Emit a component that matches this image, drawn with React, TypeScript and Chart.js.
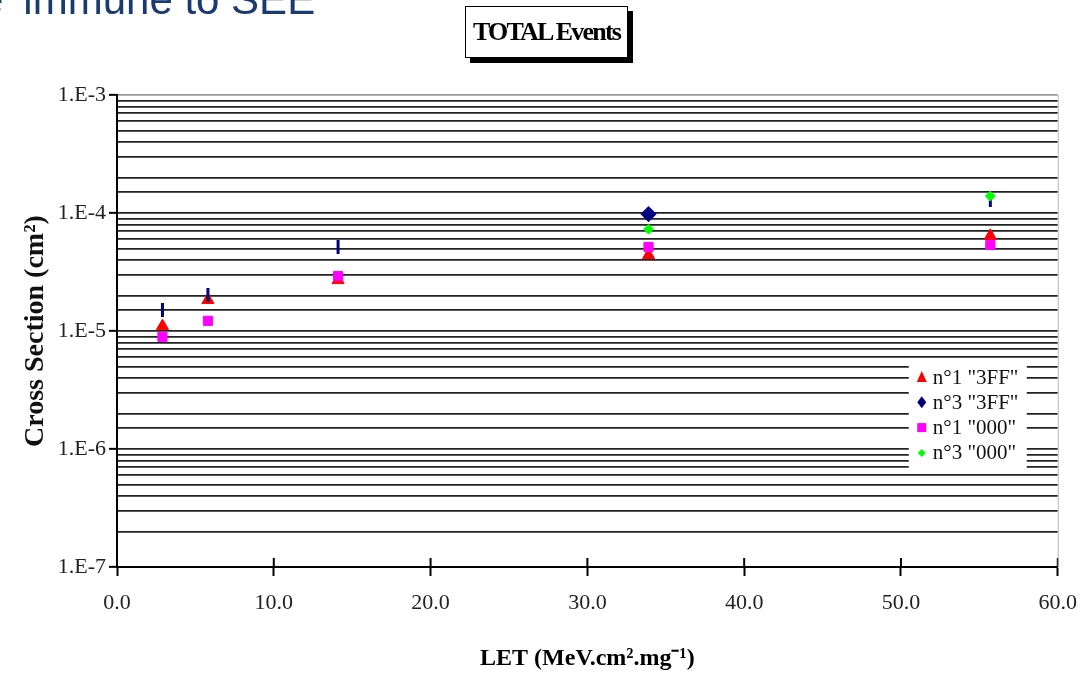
import React, { useEffect, useRef } from 'react';
import { Chart, registerables } from 'chart.js';

Chart.register(...registerables);

// ---- data ----
const LET = [2.9, 5.8, 14.1, 33.9, 55.7];
const N1_3FF = [1.1e-5, 1.83e-5, 2.7e-5, 4.4e-5, 6.4e-5];
const N3_3FF = [1.51e-5, 2.02e-5, 5.15e-5, 9.8e-5, 1.24e-4];
const N1_000 = [8.9e-6, 1.22e-5, 2.92e-5, 5.15e-5, 5.36e-5];
const N3_000_LET = [33.9, 55.7];
const N3_000 = [7.3e-5, 1.39e-4];
const SERIES_NAMES = ['n°1 "3FF"', 'n°3 "3FF"', 'n°1 "000"', 'n°3 "000"'];
const SERIES_COLORS = ['#ff0000', '#000080', '#ff00ff', '#00ff00'];
const X_MIN = 0;
const X_MAX = 60;
const X_STEP = 10;
const Y_MIN = 1e-7;
const Y_MAX = 1e-3;
const CHART_TITLE = 'TOTAL Events';
const X_TITLE = 'LET (MeV.cm².mg⁻¹)';
const Y_TITLE = 'Cross Section (cm²)';
const SLIDE_TEXT_CUT = 'e';
const SLIDE_TEXT = 'immune to SEE';

const SERIF = "'Liberation Serif', 'Times New Roman', serif";

const pts = (xs: number[], ys: number[]) => xs.map((x, i) => ({ x, y: ys[i] }));
const isDecade = (v: number) => Math.abs(Math.log10(v) - Math.round(Math.log10(v))) < 1e-6;

const crossTicksPlugin = {
  id: 'crossTicks',
  afterDraw(chart: any) {
    const { ctx, chartArea } = chart;
    const xs = chart.scales.x;
    ctx.save();
    ctx.strokeStyle = '#000';
    ctx.lineWidth = 2;
    xs.ticks.forEach((t: any) => {
      const px = xs.getPixelForValue(t.value);
      ctx.beginPath();
      ctx.moveTo(px, chartArea.bottom - 9);
      ctx.lineTo(px, chartArea.bottom);
      ctx.stroke();
    });
    // faint right edge
    ctx.strokeStyle = '#b8b8b8';
    ctx.lineWidth = 1;
    ctx.beginPath();
    ctx.moveTo(chartArea.right + 0.5, chartArea.top);
    ctx.lineTo(chartArea.right + 0.5, chartArea.bottom);
    ctx.stroke();
    ctx.restore();
  },
};

const boxLegendPlugin = {
  id: 'boxLegend',
  afterDatasetsDraw(chart: any) {
    const { ctx, chartArea } = chart;
    const bx = chartArea.right - 149;
    const by = chartArea.top + 267;
    const bw = 118;
    const bh = 106;
    ctx.save();
    ctx.fillStyle = '#ffffff';
    ctx.fillRect(bx, by, bw, bh);
    const rowH = 25.3;
    const mx = bx + 13;
    SERIES_NAMES.forEach((name, i) => {
      const cy = by + 15 + i * rowH;
      ctx.fillStyle = SERIES_COLORS[i];
      ctx.beginPath();
      if (i === 0) {
        ctx.moveTo(mx, cy - 6);
        ctx.lineTo(mx + 5, cy + 5);
        ctx.lineTo(mx - 5, cy + 5);
        ctx.closePath();
      } else if (i === 1) {
        ctx.moveTo(mx, cy - 6);
        ctx.lineTo(mx + 4.5, cy);
        ctx.lineTo(mx, cy + 6);
        ctx.lineTo(mx - 4.5, cy);
        ctx.closePath();
      } else if (i === 2) {
        ctx.rect(mx - 4.5, cy - 4.5, 9, 9);
      } else {
        ctx.moveTo(mx, cy - 4);
        ctx.lineTo(mx + 4, cy);
        ctx.lineTo(mx, cy + 4);
        ctx.lineTo(mx - 4, cy);
        ctx.closePath();
      }
      ctx.fill();
      ctx.fillStyle = '#111';
      ctx.font = `21px ${SERIF}`;
      ctx.textBaseline = 'middle';
      ctx.textAlign = 'left';
      ctx.fillText(name, mx + 11, cy + 1);
    });
    ctx.restore();
  },
};

export default function App() {
  const canvasRef = useRef<HTMLCanvasElement | null>(null);

  useEffect(() => {
    document.body.style.margin = '0';
    const canvas = canvasRef.current;
    if (!canvas) return;
    const chart = new Chart(canvas, {
      type: 'scatter',
      data: {
        datasets: [
          {
            label: SERIES_NAMES[0],
            data: pts(LET, N1_3FF),
            pointStyle: 'triangle',
            radius: 7,
            backgroundColor: SERIES_COLORS[0],
            borderColor: SERIES_COLORS[0],
            borderWidth: 1,
            order: 4,
          },
          {
            label: SERIES_NAMES[1],
            data: pts(LET, N3_3FF),
            pointStyle: ['line', 'line', 'line', 'rectRot', 'line'],
            rotation: [90, 90, 90, 0, 90],
            radius: [7, 7, 7, 6, 5],
            backgroundColor: SERIES_COLORS[1],
            borderColor: SERIES_COLORS[1],
            borderWidth: 3,
            order: 3,
          } as any,
          {
            label: SERIES_NAMES[2],
            data: pts(LET, N1_000),
            pointStyle: 'rect',
            radius: 6.5,
            backgroundColor: SERIES_COLORS[2],
            borderColor: SERIES_COLORS[2],
            borderWidth: 1,
            order: 2,
          },
          {
            label: SERIES_NAMES[3],
            data: pts(N3_000_LET, N3_000),
            pointStyle: 'rectRot',
            radius: 5,
            backgroundColor: SERIES_COLORS[3],
            borderColor: SERIES_COLORS[3],
            borderWidth: 1,
            order: 1,
          },
        ],
      },
      options: {
        animation: false,
        responsive: false,
        devicePixelRatio: 1,
        layout: { padding: { top: 95, right: 32, left: 0, bottom: 0 } },
        plugins: {
          legend: { display: false },
          tooltip: { enabled: false },
          title: { display: false },
        },
        scales: {
          x: {
            type: 'linear',
            min: X_MIN,
            max: X_MAX,
            afterFit: (s: any) => {
              s.height = 106;
            },
            ticks: {
              stepSize: X_STEP,
              callback: (v: any) => Number(v).toFixed(1),
              font: { family: SERIF, size: 22 },
              color: '#222',
              padding: 14,
              maxRotation: 0,
            },
            grid: {
              drawOnChartArea: false,
              drawTicks: true,
              tickLength: 9,
              tickColor: '#000',
              tickWidth: 2,
            },
            border: { display: true, color: '#000', width: 2 },
            title: {
              display: true,
              text: X_TITLE,
              font: { family: SERIF, size: 24, weight: 'bold' },
              color: '#000',
              padding: { top: 0, bottom: 0 },
            },
          },
          y: {
            type: 'logarithmic',
            min: Y_MIN,
            max: Y_MAX,
            afterFit: (s: any) => {
              s.width = 117;
            },
            ticks: {
              autoSkip: false,
              callback: (v: any) => {
                const n = Number(v);
                if (!isDecade(n)) return '';
                return `1.E${Math.round(Math.log10(n))}`;
              },
              font: { family: SERIF, size: 22 },
              color: '#222',
              padding: 3,
            },
            grid: {
              color: (c: any) =>
                c.tick && Math.abs(c.tick.value - Y_MAX) / Y_MAX < 1e-6 ? '#999' : '#222',
              lineWidth: 1.7,
              drawTicks: true,
              tickLength: 8,
              tickColor: (c: any) => (c.tick && isDecade(c.tick.value) ? '#000' : 'rgba(0,0,0,0)'),
              tickWidth: 2,
            },
            border: { display: true, color: '#000', width: 2 },
            title: {
              display: true,
              text: Y_TITLE,
              font: { family: SERIF, size: 28, weight: 'bold' },
              color: '#111',
              padding: { top: 19, bottom: 0 },
            },
          },
        },
      },
      plugins: [crossTicksPlugin, boxLegendPlugin],
    } as any);
    return () => chart.destroy();
  }, []);

  return (
    <div style={{ position: 'fixed', left: 0, top: 0, width: 1091, height: 673, background: '#fff', overflow: 'hidden' }}>
      <canvas ref={canvasRef} width={1091} height={673} style={{ display: 'block', width: 1091, height: 673 }} />
      <div
        style={{
          position: 'absolute',
          left: -20,
          top: -21,
          fontFamily: "'Liberation Sans', Arial, sans-serif",
          fontSize: 42,
          lineHeight: '42px',
          color: '#1a3a70',
          whiteSpace: 'nowrap',
        }}
      >
        <span>{SLIDE_TEXT_CUT}</span>
        <span style={{ marginLeft: 20 }}>{SLIDE_TEXT}</span>
      </div>
      <div
        style={{
          position: 'absolute',
          left: 465,
          top: 6,
          width: 163,
          height: 52,
          boxSizing: 'border-box',
          border: '1.5px solid #000',
          boxShadow: '5px 5px 0 #000',
          background: '#fff',
          fontFamily: SERIF,
          fontWeight: 'bold',
          fontSize: 26,
          letterSpacing: '-1.8px',
          lineHeight: '49px',
          textAlign: 'center',
          color: '#000',
        }}
      >
        {CHART_TITLE}
      </div>
    </div>
  );
}
